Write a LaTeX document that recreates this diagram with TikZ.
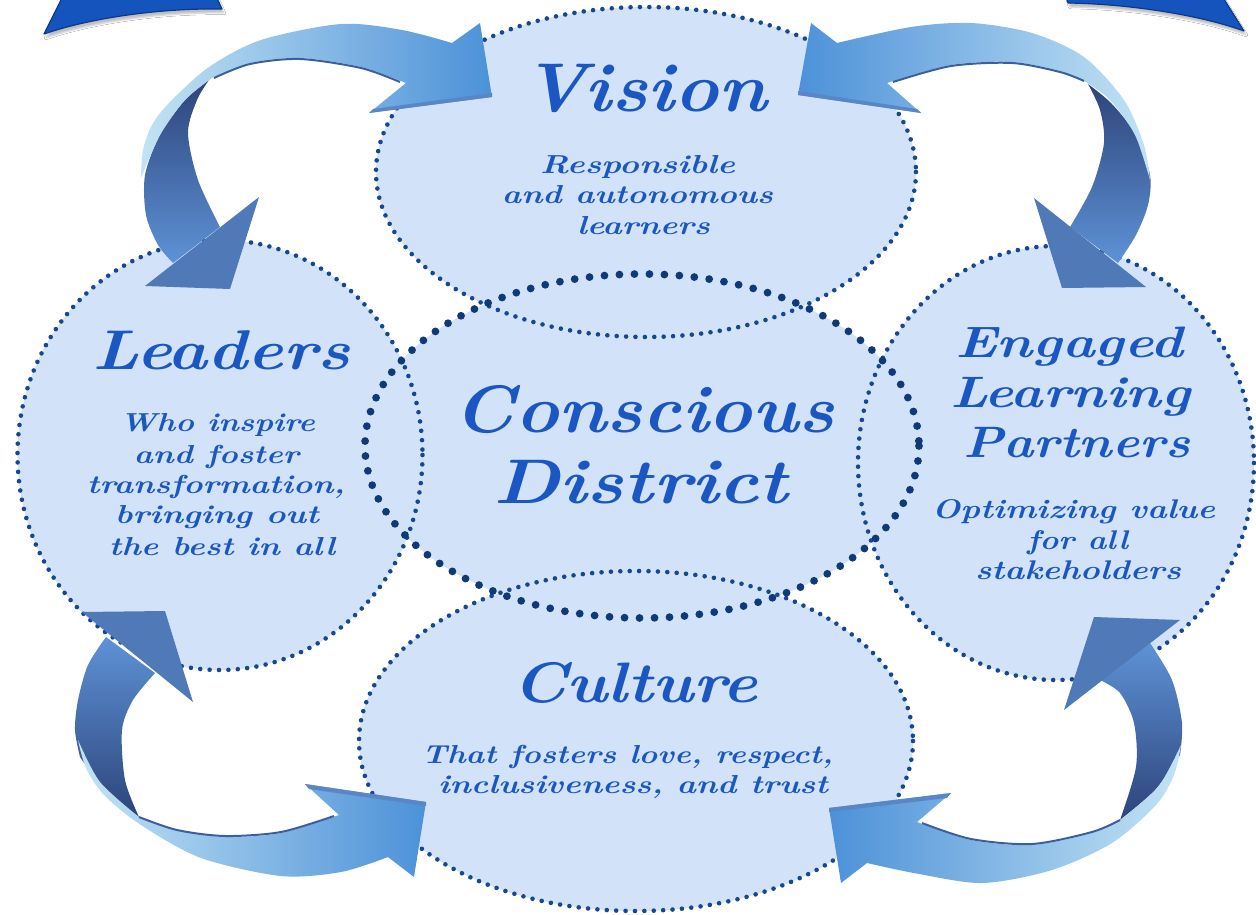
\documentclass[tikz,border=0pt]{standalone}
\usepackage{fontspec}
\usepackage{graphicx}
\usetikzlibrary{shapes.geometric,shadows.blur}
\definecolor{fillb}{HTML}{D2E2F8}
\definecolor{dotb}{HTML}{17478F}
\definecolor{dotc}{HTML}{0F3977}
\definecolor{txtb}{HTML}{1A57C2}
\definecolor{lightend}{HTML}{C3E3F4}
\definecolor{lightmid}{HTML}{8EC3E9}
\definecolor{deepend}{HTML}{4C91D8}
\definecolor{darktop}{HTML}{2D447A}
\definecolor{darkbot}{HTML}{5E92D6}
\definecolor{headc}{HTML}{5079B7}
\definecolor{edgec}{HTML}{3C5E9E}
\definecolor{stripc}{HTML}{5A86C6}
\definecolor{cornerc}{HTML}{1553BD}
\definecolor{cornerd}{HTML}{0B3A8C}
\newcommand\tline[3]{\resizebox{#1pt}{\height}{\fontsize{#2}{#2}\selectfont\bfseries\itshape #3}}
\tikzset{
  blob/.style={ellipse, fill=fillb, inner sep=0pt, outer sep=0pt},
  smalldots/.style={draw=dotb, line width=4.6pt, line cap=round, dash pattern=on 0pt off 9.4pt},
  bigdots/.style={draw=dotc, line width=7.8pt, line cap=round, dash pattern=on 0pt off 15pt},
  txt/.style={text=txtb, inner sep=0pt, anchor=base},
  lightR/.style={left color=lightend, middle color=lightmid, right color=deepend},
  lightL/.style={left color=deepend, middle color=lightmid, right color=lightend},
  darkTB/.style={top color=darktop, bottom color=darkbot},
  darkBT/.style={top color=darkbot, bottom color=darktop},
  headfill/.style={fill=headc},
  edgeln/.style={draw=edgec, line width=2pt},
  strip/.style={fill=stripc},
  corner/.style={fill=cornerc, draw=cornerd, line width=1.2pt, line join=round,
    blur shadow={shadow xshift=2pt, shadow yshift=-4pt, shadow opacity=25}}
}
\begin{document}
\begin{tikzpicture}[x=1pt,y=-1pt]
\useasboundingbox (0,0) rectangle (1256,915);
\fill[white] (0,0) rectangle (1256,915);
% ellipse fills
\node[blob, minimum width=540pt, minimum height=330pt] (vision) at (646,172) {};
\node[blob, minimum width=405pt, minimum height=430pt] (leaders) at (220,455) {};
\node[blob, minimum width=396pt, minimum height=434pt] (engaged) at (1056,463) {};
\node[blob, minimum width=554pt, minimum height=340pt] (culture) at (636,741) {};
\node[blob, minimum width=554pt, minimum height=344pt] (center) at (642,446) {};
% dotted borders
\draw[smalldots] (vision.center) ellipse [x radius=270, y radius=165];
\draw[smalldots] (leaders.center) ellipse [x radius=202.5, y radius=215];
\draw[smalldots] (engaged.center) ellipse [x radius=198, y radius=217];
\draw[smalldots] (culture.center) ellipse [x radius=277, y radius=170];
\draw[bigdots] (center.center) ellipse [x radius=277, y radius=172];
% corner shapes
\path[corner] (44,34) .. controls (90,18) and (160,8) .. (222,9) -- (216,-4) -- (63,-4) -- cycle;
\path[corner] (1068,3) .. controls (1130,4) and (1200,15) .. (1244,31) -- (1222,-4) -- (1066,-4) -- cycle;
% ---- arrow 1 (Vision / Leaders) ----
\shade[darkTB] plot[smooth] coordinates {(209,80) (185,100) (160,135) (145,175) (146,215) (158,245) (173,263)}
  -- (220,227) -- plot[smooth] coordinates {(220,227) (198,180) (188,133) (197,100) (209,80)} -- cycle;
\fill[headfill] (259,197) -- (145,286) -- (230,289) -- cycle;
\shade[lightR] (406,83) -- (369,113) -- (492,97) -- (480,23) -- (452,43)
  -- plot[smooth] coordinates {(452,43) (402,30) (341,24) (261,40) (209,67) (169,103) (152,125) (143,150) (141,178)}
  -- plot[smooth] coordinates {(141,178) (160,135) (185,100) (212,78)}
  -- plot[smooth] coordinates {(212,78) (250,63) (300,58) (361,67) (406,83)} -- cycle;
\draw[edgeln] plot[smooth] coordinates {(214,78) (250,64) (300,59) (361,68) (400,82)};
\fill[strip] (369,113) -- (492,97) -- (492,93) -- (373,109) -- cycle;
% ---- arrow 2 (Vision / Engaged) ----
\shade[darkTB] plot[smooth] coordinates {(1088,84) (1112,104) (1136,135) (1150,175) (1148,205) (1136,235) (1118,263)}
  -- (1070,227) -- plot[smooth] coordinates {(1070,227) (1092,187) (1104,143) (1100,110) (1088,84)} -- cycle;
\fill[headfill] (1034,198) -- (1146,287) -- (1062,288) -- cycle;
\shade[lightL] (887,83) -- (921,113) -- (798,95) -- (811,23) -- (837,43)
  -- plot[smooth] coordinates {(837,43) (911,27) (971,23) (1032,33) (1084,57) (1124,100) (1144,145) (1150,180)}
  -- plot[smooth] coordinates {(1150,180) (1135,135) (1110,100) (1086,82)}
  -- plot[smooth] coordinates {(1086,82) (1060,71) (1012,62) (951,65) (887,83)} -- cycle;
\draw[edgeln] plot[smooth] coordinates {(1084,81) (1060,72) (1012,63) (951,66) (893,82)};
\fill[strip] (798,95) -- (921,113) -- (917,109) -- (798,91) -- cycle;
% ---- arrow 3 (Leaders / Culture) ----
\shade[darkBT] plot[smooth] coordinates {(106,637) (88,665) (78,700) (75,730) (80,757)}
  -- plot[smooth] coordinates {(80,757) (105,790) (139,817)}
  -- plot[smooth] coordinates {(139,817) (125,780) (122,730) (133,700) (155,673)} -- cycle;
\fill[headfill] (82,612) -- (193,702) -- (165,611) -- cycle;
\shade[lightR] (339,815) -- (305,784) -- (426,802) -- (414,877) -- (388,857)
  -- plot[smooth] coordinates {(388,857) (341,872) (281,876) (201,858) (141,825) (104,795) (86,768) (78,740)}
  -- plot[smooth] coordinates {(78,740) (100,782) (139,817)}
  -- plot[smooth] coordinates {(139,817) (177,830) (225,837) (281,833) (339,815)} -- cycle;
\draw[edgeln] plot[smooth] coordinates {(139,817) (177,830) (225,836) (281,832) (334,816)};
\fill[strip] (305,784) -- (426,802) -- (426,806) -- (309,789) -- cycle;
% ---- arrow 4 (Engaged / Culture) ----
\shade[darkBT] plot[smooth] coordinates {(1150,643) (1172,680) (1182,723) (1180,755)}
  -- plot[smooth] coordinates {(1180,755) (1155,790) (1120,820)}
  -- plot[smooth] coordinates {(1120,820) (1136,767) (1134,723) (1120,693) (1100,680)} -- cycle;
\fill[headfill] (1180,620) -- (1064,710) -- (1094,617) -- cycle;
\shade[lightL] (917,822) -- (951,793) -- (829,808) -- (841,883) -- (867,863)
  -- plot[smooth] coordinates {(867,863) (919,874) (983,883) (1052,870) (1112,843) (1156,805) (1174,775) (1181,745)}
  -- plot[smooth] coordinates {(1181,745) (1158,787) (1120,820)}
  -- plot[smooth] coordinates {(1120,820) (1092,833) (1032,845) (971,840) (917,822)} -- cycle;
\draw[edgeln] plot[smooth] coordinates {(1120,820) (1092,832) (1032,844) (971,839) (922,823)};
\fill[strip] (829,808) -- (951,793) -- (947,798) -- (829,812) -- cycle;
% ---- texts ----
\node[txt] (t1) at (645,112) {\tline{244}{69}{Vision}};
\node[txt] (t2) at (637.5,173) {\tline{195}{26}{Responsible}};
\node[txt] (t3) at (637.5,204) {\tline{271}{26}{and autonomous}};
\node[txt] (t4) at (643.5,234) {\tline{133}{26}{learners}};
\node[txt] (l1) at (221.5,369) {\tline{257}{56}{Leaders}};
\node[txt] (l2) at (217.5,431) {\tline{195}{26}{Who inspire}};
\node[txt] (l3) at (216.5,463) {\tline{165}{26}{and foster}};
\node[txt] (l4) at (216,493) {\tline{258}{26}{transformation,}};
\node[txt] (l5) at (217,523) {\tline{204}{26}{bringing out}};
\node[txt] (l6) at (222,555) {\tline{226}{26}{the best in all}};
\node[txt] (c1) at (644,432) {\tline{380}{67}{Conscious}};
\node[txt] (c2) at (640.5,503) {\tline{295}{63}{District}};
\node[txt] (e1) at (1069,357) {\tline{228}{44}{Engaged}};
\node[txt] (e2) at (1070,407) {\tline{240}{44}{Learning}};
\node[txt] (e3) at (1076.5,457) {\tline{227}{44}{Partners}};
\node[txt] (e4) at (1073.5,518) {\tline{283}{27}{Optimizing value}};
\node[txt] (e5) at (1077.5,549) {\tline{101}{27}{for all}};
\node[txt] (e6) at (1078,579) {\tline{206}{27}{stakeholders}};
\node[txt] (u1) at (635,702) {\tline{246}{57}{Culture}};
\node[txt] (u2) at (627.5,763) {\tline{411}{26}{That fosters love, respect,}};
\node[txt] (u3) at (633,793) {\tline{390}{26}{inclusiveness, and trust}};
\end{tikzpicture}
\end{document}
